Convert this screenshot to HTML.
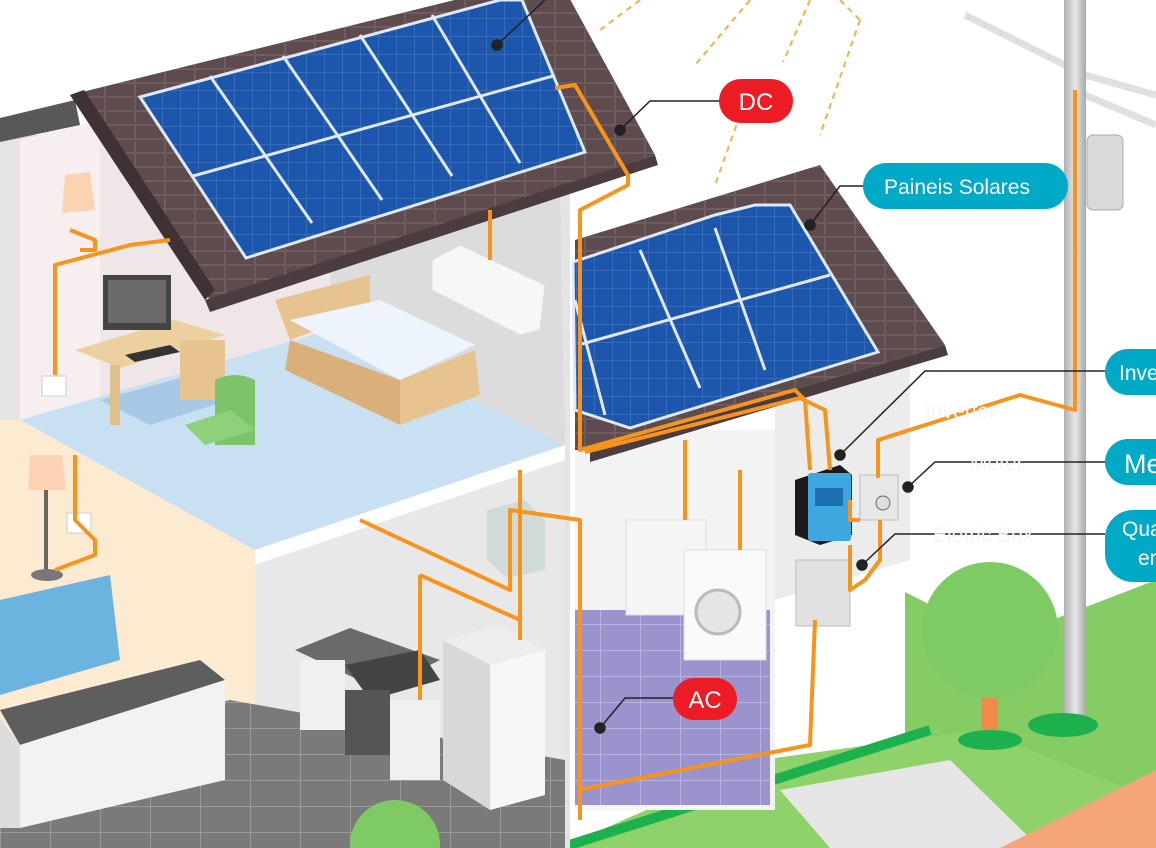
<!DOCTYPE html>
<html><head><meta charset="utf-8"><style>
html,body{margin:0;padding:0;background:#fff;width:1156px;height:848px;overflow:hidden}
svg text{font-family:"Liberation Sans",sans-serif}
</style></head><body>
<svg width="1156" height="848" viewBox="0 0 1156 848" xmlns="http://www.w3.org/2000/svg">
<defs>
<pattern id="cell" width="18" height="18" patternUnits="userSpaceOnUse"><rect width="18" height="18" fill="#1c56ad"/><path d="M0 0H18M0 0V18" stroke="#4f80c8" stroke-width="1"/></pattern>
<pattern id="tile" width="50" height="26" patternUnits="userSpaceOnUse"><rect width="50" height="26" fill="#7a7a7a"/><path d="M0 0H50M0 0V26" stroke="#a5a5a5" stroke-width="1.5"/></pattern>
<pattern id="ptile" width="40" height="26" patternUnits="userSpaceOnUse"><rect width="40" height="26" fill="#9b93cd"/><path d="M0 0H40M0 0V26" stroke="#c3bde6" stroke-width="1.5"/></pattern>
<pattern id="roof" width="30" height="14" patternUnits="userSpaceOnUse"><rect width="30" height="14" fill="#5d4b4e"/><path d="M0 13H30M15 0V13" stroke="#6f5c5f" stroke-width="2"/></pattern>
<linearGradient id="pole" x1="0" x2="1"><stop offset="0" stop-color="#b0b0b0"/><stop offset=".5" stop-color="#e8e8e8"/><stop offset="1" stop-color="#a8a8a8"/></linearGradient>
</defs>
<!-- ground right -->
<polygon points="905,592 1000,640 1156,580 1156,848 990,848 905,740" fill="#84cc63"/>
<polygon points="560,848 760,760 980,730 1156,800 1156,848" fill="#8fd16b"/>
<polygon points="780,790 950,760 1040,848 830,848" fill="#e6e6e6"/>
<polygon points="1000,848 1156,770 1156,848" fill="#f4a57a"/>
<path d="M560 848 L930 730" stroke="#1db14e" stroke-width="10"/>
<!-- left house wall -->
<rect x="0" y="135" width="570" height="713" fill="#e4e4e4"/>
<polygon points="20,140 100,120 100,420 20,440" fill="#f7eef0"/>
<polygon points="100,120 330,60 330,330 100,420" fill="#efe6e8"/>
<polygon points="330,230 560,190 565,445 330,330" fill="#dcdcdc"/>
<!-- upper floor -->
<polygon points="20,420 330,330 565,445 255,550" fill="#c9e0f2"/>
<polygon points="255,550 565,445 565,460 255,565" fill="#fff"/>
<polygon points="100,400 180,378 230,400 150,425" fill="#a9c8e8"/>
<!-- lower floor -->
<polygon points="0,420 20,420 255,550 255,848 0,848" fill="#fdebd1"/>
<polygon points="255,565 565,460 565,848 255,848" fill="#e8e8e8"/>
<polygon points="0,848 0,760 230,700 565,760 565,848" fill="url(#tile)"/>
<polygon points="0,600 110,575 120,660 0,695" fill="#6cb4e0"/>
<polygon points="0,710 200,660 225,680 20,745" fill="#5e5e5e"/>
<polygon points="20,745 225,680 225,780 20,828" fill="#f2f2f2"/>
<polygon points="0,718 20,745 20,828 0,828" fill="#ddd"/>
<polygon points="295,650 350,628 440,660 380,690" fill="#6a6a6a"/>
<polygon points="345,665 420,650 440,680 370,700" fill="#444"/>
<rect x="300" y="660" width="45" height="70" fill="#f0f0f0"/>
<rect x="345" y="690" width="45" height="65" fill="#555"/>
<rect x="390" y="700" width="50" height="80" fill="#f0f0f0"/>
<polygon points="443,640 500,625 545,650 490,665" fill="#ededed"/>
<polygon points="443,640 490,665 490,810 443,780" fill="#d8d8d8"/>
<polygon points="490,665 545,650 545,795 490,810" fill="#f7f7f7"/>
<polygon points="487,510 525,500 545,520 545,570 507,578 487,560" fill="#cfdad9"/>
<polygon points="275,300 370,275 370,310 290,340" fill="#e7c38f"/>
<polygon points="290,320 380,300 475,345 400,380" fill="#eef4fb"/>
<polygon points="290,340 400,380 400,425 285,370" fill="#d9b07a"/>
<polygon points="400,380 475,350 480,395 400,425" fill="#e7c38f"/>
<polygon points="75,350 175,320 225,335 120,368" fill="#ecd0a0"/>
<rect x="110" y="365" width="10" height="60" fill="#e0c08a"/>
<rect x="180" y="340" width="45" height="60" fill="#e7c38f"/>
<rect x="103" y="275" width="68" height="55" fill="#444"/>
<rect x="108" y="280" width="58" height="43" fill="#6a6a6a"/>
<polygon points="125,355 170,345 180,352 135,362" fill="#333"/>
<path d="M215 380 Q235 370 255 380 L255 445 L215 445Z" fill="#7cc46a"/>
<polygon points="185,425 230,410 255,430 205,445" fill="#8fd17b"/>
<polygon points="65,175 90,172 95,210 62,213" fill="#fbd3b3"/>
<polygon points="30,455 62,455 66,490 28,490" fill="#fbd3b3"/>
<rect x="44" y="490" width="4" height="80" fill="#666"/>
<ellipse cx="47" cy="575" rx="16" ry="6" fill="#777"/>
<rect x="42" y="376" width="24" height="20" fill="#fff" stroke="#ccc"/>
<rect x="67" y="513" width="24" height="20" fill="#fff" stroke="#ccc"/>
<polygon points="432,260 460,245 545,285 540,330 520,335 432,290" fill="#f7f7f7" stroke="#ddd"/>
<!-- gutter left -->
<polygon points="0,118 75,100 80,125 0,142" fill="#58585a"/>
<!-- big roof -->
<polygon points="70,95 495,-10 565,-10 655,155 210,300" fill="url(#roof)"/>
<polygon points="70,95 84,90 215,290 205,300" fill="#3f3235"/>
<polygon points="205,300 655,155 658,165 210,312" fill="#4a3c3f"/>
<polygon points="140,97 500,0 522,0 585,152 246,258" fill="url(#cell)" stroke="#dfe8f5" stroke-width="3"/>
<path d="M193,176 L553,76 M210,76 L312,223 M283,56 L382,200 M360,35 L452,176 M432,15 L520,163" stroke="#dfe8f5" stroke-width="3"/>
<!-- right house -->
<rect x="575" y="430" width="200" height="380" fill="#f3f3f3"/>
<polygon points="775,400 910,360 910,560 775,600" fill="#ececec"/>
<rect x="575" y="610" width="195" height="195" fill="url(#ptile)"/>
<polygon points="575,240 820,165 945,345 590,450 575,450" fill="url(#roof)"/>
<polygon points="590,450 945,345 948,355 590,462" fill="#4a3c3f"/>
<polygon points="573,262 715,215 755,205 790,205 878,352 630,428 575,410" fill="url(#cell)" stroke="#dfe8f5" stroke-width="3"/>
<path d="M578,345 L830,275 M640,250 L700,388 M715,228 L765,370 M575,300 L605,415" stroke="#dfe8f5" stroke-width="3"/>
<rect x="626" y="520" width="80" height="95" fill="#f5f5f5" stroke="#ddd"/>
<rect x="684" y="550" width="82" height="110" fill="#fafafa" stroke="#ddd"/>
<circle cx="718" cy="612" r="22" fill="#e5e5e5" stroke="#bbb" stroke-width="3"/>
<polygon points="795,480 840,465 852,475 852,535 820,545 795,535" fill="#1a1a1a"/>
<rect x="808" y="473" width="43" height="68" rx="3" fill="#3ea7e0"/>
<rect x="815" y="488" width="28" height="18" fill="#1c6fb0"/>
<rect x="860" y="475" width="38" height="45" fill="#e7e7e7" stroke="#bbb"/>
<circle cx="883" cy="503" r="7" fill="#ddd" stroke="#666"/>
<rect x="796" y="560" width="54" height="66" fill="#e1e1e1" stroke="#bbb"/>
<!-- pole -->
<path d="M965 15 L1085 75 M1085 75 L1156 95 M1085 95 L1156 125" stroke="#e0e0e0" stroke-width="7"/>
<rect x="1064" y="0" width="22" height="735" fill="url(#pole)"/>
<ellipse cx="1063" cy="725" rx="35" ry="12" fill="#1db14e"/>
<rect x="1087" y="135" width="36" height="75" rx="6" fill="#d9d9d9" stroke="#aaa"/>
<rect x="982" y="690" width="16" height="40" fill="#f08a4b"/>
<ellipse cx="990" cy="740" rx="32" ry="10" fill="#1db14e"/>
<circle cx="990" cy="630" r="68" fill="#7ecb66"/>
<circle cx="395" cy="845" r="45" fill="#7ecb66"/>
<g fill="none" stroke="#f7941d" stroke-width="4" stroke-linejoin="round">
<path d="M555 88 L575 85 L628 175 L628 185 L580 210 L580 450 L795 390 L805 400 L810 470"/>
<path d="M585 452 L800 398 L825 410 L830 470"/>
<path d="M850 500 L850 520 L860 520"/>
<path d="M878 478 L878 440 L1020 395 L1075 410 L1075 90"/>
<path d="M850 545 L850 590 L865 580 L880 560 L880 520"/>
<path d="M578 790 L810 745 L815 620"/>
<path d="M685 440 L685 520 M740 470 L740 550"/>
<path d="M360 520 L510 590 L510 510 L580 520 L580 820"/>
<path d="M420 575 L520 620 M420 575 L420 700"/>
<path d="M520 470 L520 640"/>
<path d="M490 210 L490 260"/>
<path d="M55 300 L55 265 L130 245 L170 240 M55 300 L55 375"/>
<path d="M80 250 L95 250 L95 240 L70 230"/>
<path d="M75 455 L75 520 L95 540 L95 555 L55 570"/>
</g>
<g stroke="#f7b044" stroke-width="2" stroke-dasharray="6 5" fill="none">
<path d="M640 0 L600 30 M750 0 L695 65 M810 0 L783 62 M840 0 L860 20 M860 20 L820 135 M740 115 L715 185"/>
</g>
<g stroke="#222" stroke-width="1.5" fill="none">
<path d="M720 101 L650 101 L620 130"/><circle cx="620" cy="130" r="5" fill="#222"/>
<path d="M870 186 L840 186 L810 225"/><circle cx="810" cy="225" r="5" fill="#222"/>
<path d="M1105 371 L925 371 L840 455"/><circle cx="840" cy="455" r="5" fill="#222"/>
<path d="M1105 462 L935 462 L908 487"/><circle cx="908" cy="487" r="5" fill="#222"/>
<path d="M1105 534 L895 534 L862 565"/><circle cx="862" cy="565" r="5" fill="#222"/>
<path d="M673 698 L625 698 L600 728"/><circle cx="600" cy="728" r="5" fill="#222"/>
<path d="M545 0 L497 45"/><circle cx="497" cy="45" r="5" fill="#222"/>
</g>
<g fill="#f6f6f6" font-size="21"><text x="925" y="418">Inverter</text><text x="970" y="470">Meter</text><text x="933" y="542">Eletric Box</text></g>
<rect x="719" y="79" width="74" height="44" rx="22" fill="#ed1c24"/>
<text x="756" y="110" font-size="24" fill="#fff" text-anchor="middle">DC</text>
<rect x="673" y="678" width="64" height="42" rx="21" fill="#ed1c24"/>
<text x="705" y="708" font-size="24" fill="#fff" text-anchor="middle">AC</text>
<rect x="863" y="163" width="205" height="46" rx="23" fill="#00a9c6"/>
<text x="957" y="194" font-size="21" fill="#fff" text-anchor="middle">Paineis Solares</text>
<rect x="1105" y="349" width="80" height="46" rx="23" fill="#00a9c6"/>
<text x="1119" y="380" font-size="21" fill="#fff">Inve</text>
<rect x="1105" y="439" width="80" height="46" rx="23" fill="#00a9c6"/>
<text x="1124" y="473" font-size="27" fill="#fff">Me</text>
<rect x="1105" y="510" width="80" height="72" rx="28" fill="#00a9c6"/>
<text x="1122" y="536" font-size="21" fill="#fff">Qua</text>
<text x="1138" y="565" font-size="21" fill="#fff">em</text>
</svg>
</body></html>
